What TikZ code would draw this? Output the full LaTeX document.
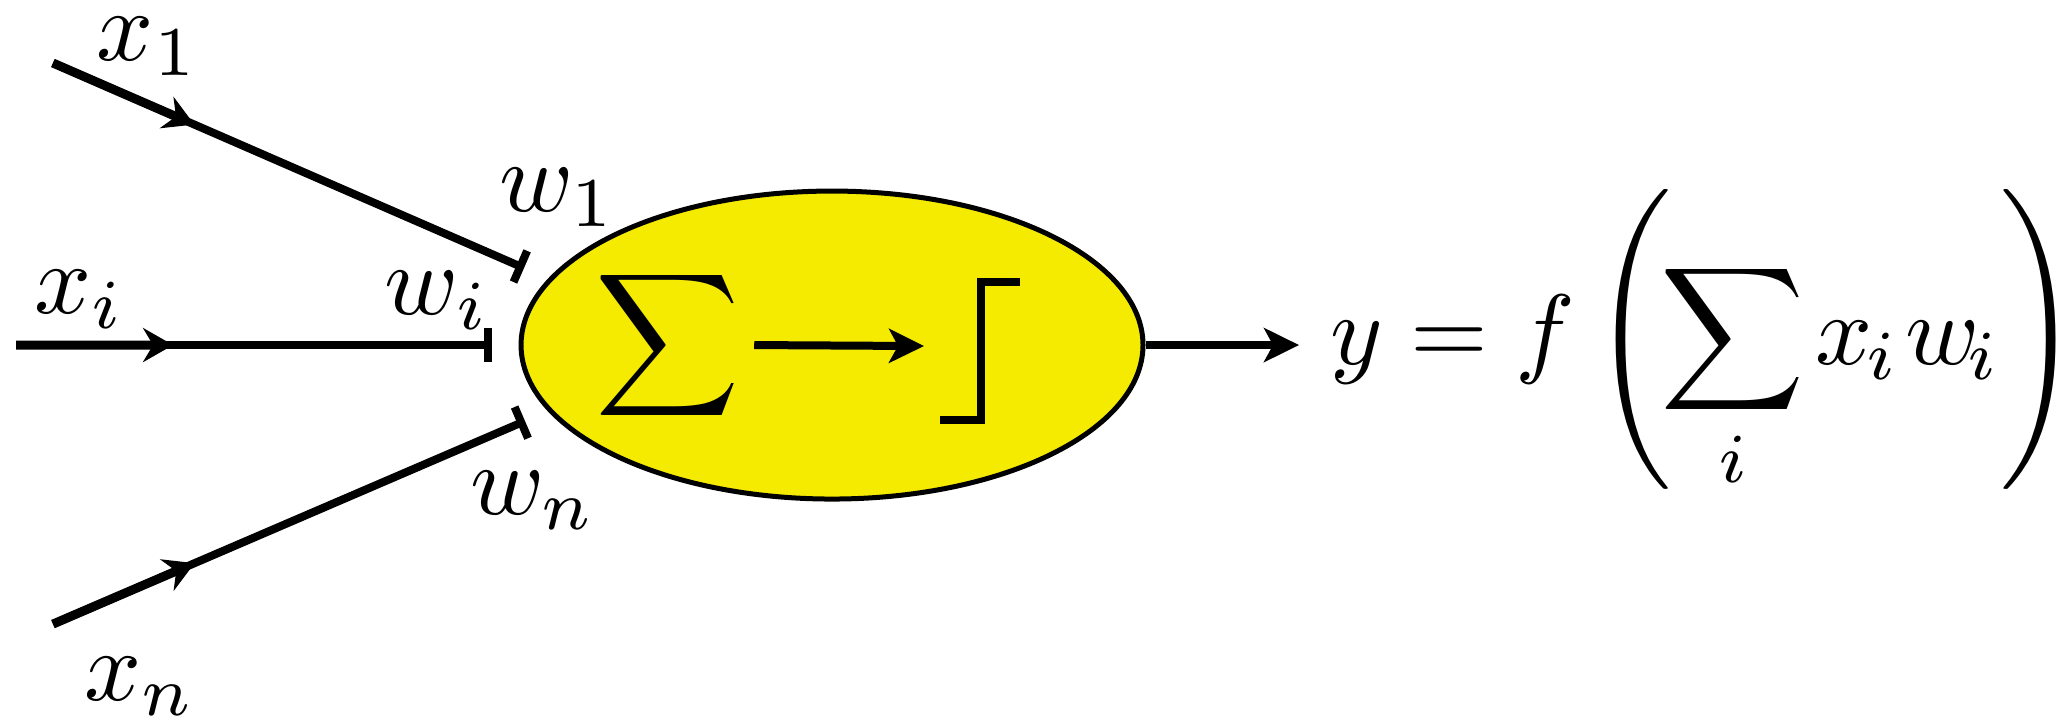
\documentclass[tikz,border=0pt]{standalone}
\usepackage{amsmath, amssymb}
\usepackage{tikz}
\usetikzlibrary{calc, positioning, arrows.meta, shapes.geometric}
\definecolor{cellyellow}{RGB}{245,235,0}
\tikzset{
    cellbody/.style={ellipse, draw=black, line width=0.5pt, fill=cellyellow, minimum width=62.2pt, minimum height=30.8pt, inner sep=0pt},
    inwire/.style={line width=0.8pt, -{Bar[width=3.4pt]}},
    inhead/.style={line width=0.9pt, -{Stealth[length=3pt, width=3.4pt, inset=1pt]}},
    flowarrow/.style={line width=0.8pt, -{Stealth[length=3.5pt, width=3.4pt, inset=0.9pt]}},
    stepline/.style={line width=0.8pt},
    lbl/.style={inner sep=0pt}
}

\begin{document}
\begin{tikzpicture}[x=0.1pt,y=-0.1pt]
    \useasboundingbox (0,0) rectangle (2058,719);
    % neuron body
    \node[cellbody] (cell) at (832,345) {};
    \node[lbl, outer sep=1.4pt] (sum) at (668,345) {$\displaystyle\sum$};
    \coordinate (acttip) at (924,346);
    \draw[flowarrow] (sum.east) -- (acttip);
    \draw[stepline] (940,420) -| (981,282) -- (1020,282);
    % inputs
    \coordinate (in1) at (53,63);
    \coordinate (ini) at (16,345);
    \coordinate (inn) at (53,624);
    \coordinate (b1) at (524,268);
    \coordinate (bi) at (492,345);
    \coordinate (bn) at (525,421);
    \draw[inwire] (in1) -- (b1);
    \draw[inwire] (ini) -- (bi);
    \draw[inwire] (inn) -- (bn);
    \draw[inhead] (in1) -- ($(in1)!0.3!(b1)$);
    \draw[inhead] (ini) -- ($(ini)!0.33!(bi)$);
    \draw[inhead] (inn) -- ($(inn)!0.3!(bn)$);
    \node[lbl] (x1) at (148,46) {$x_1$};
    \node[lbl] (xi) at (80,299) {$x_i$};
    \node[lbl] (xn) at (140,686) {$x_n$};
    \node[lbl] (w1) at (558,197) {$w_1$};
    \node[lbl] (wi) at (437,300) {$w_i$};
    \node[lbl] (wn) at (533,500) {$w_n$};
    % output
    \node[lbl, anchor=west] (out) at (1328,341) {$\displaystyle y = f\left(\mkern-2mu\sum_i \mkern-1mu x_{\mkern-1.5mu i}\mkern1mu w_{\mkern-2mu i}\right)$};
    \draw[flowarrow] (cell.east) -- ([xshift=-2.9pt]cell.east -| out.west);
\end{tikzpicture}
\end{document}
